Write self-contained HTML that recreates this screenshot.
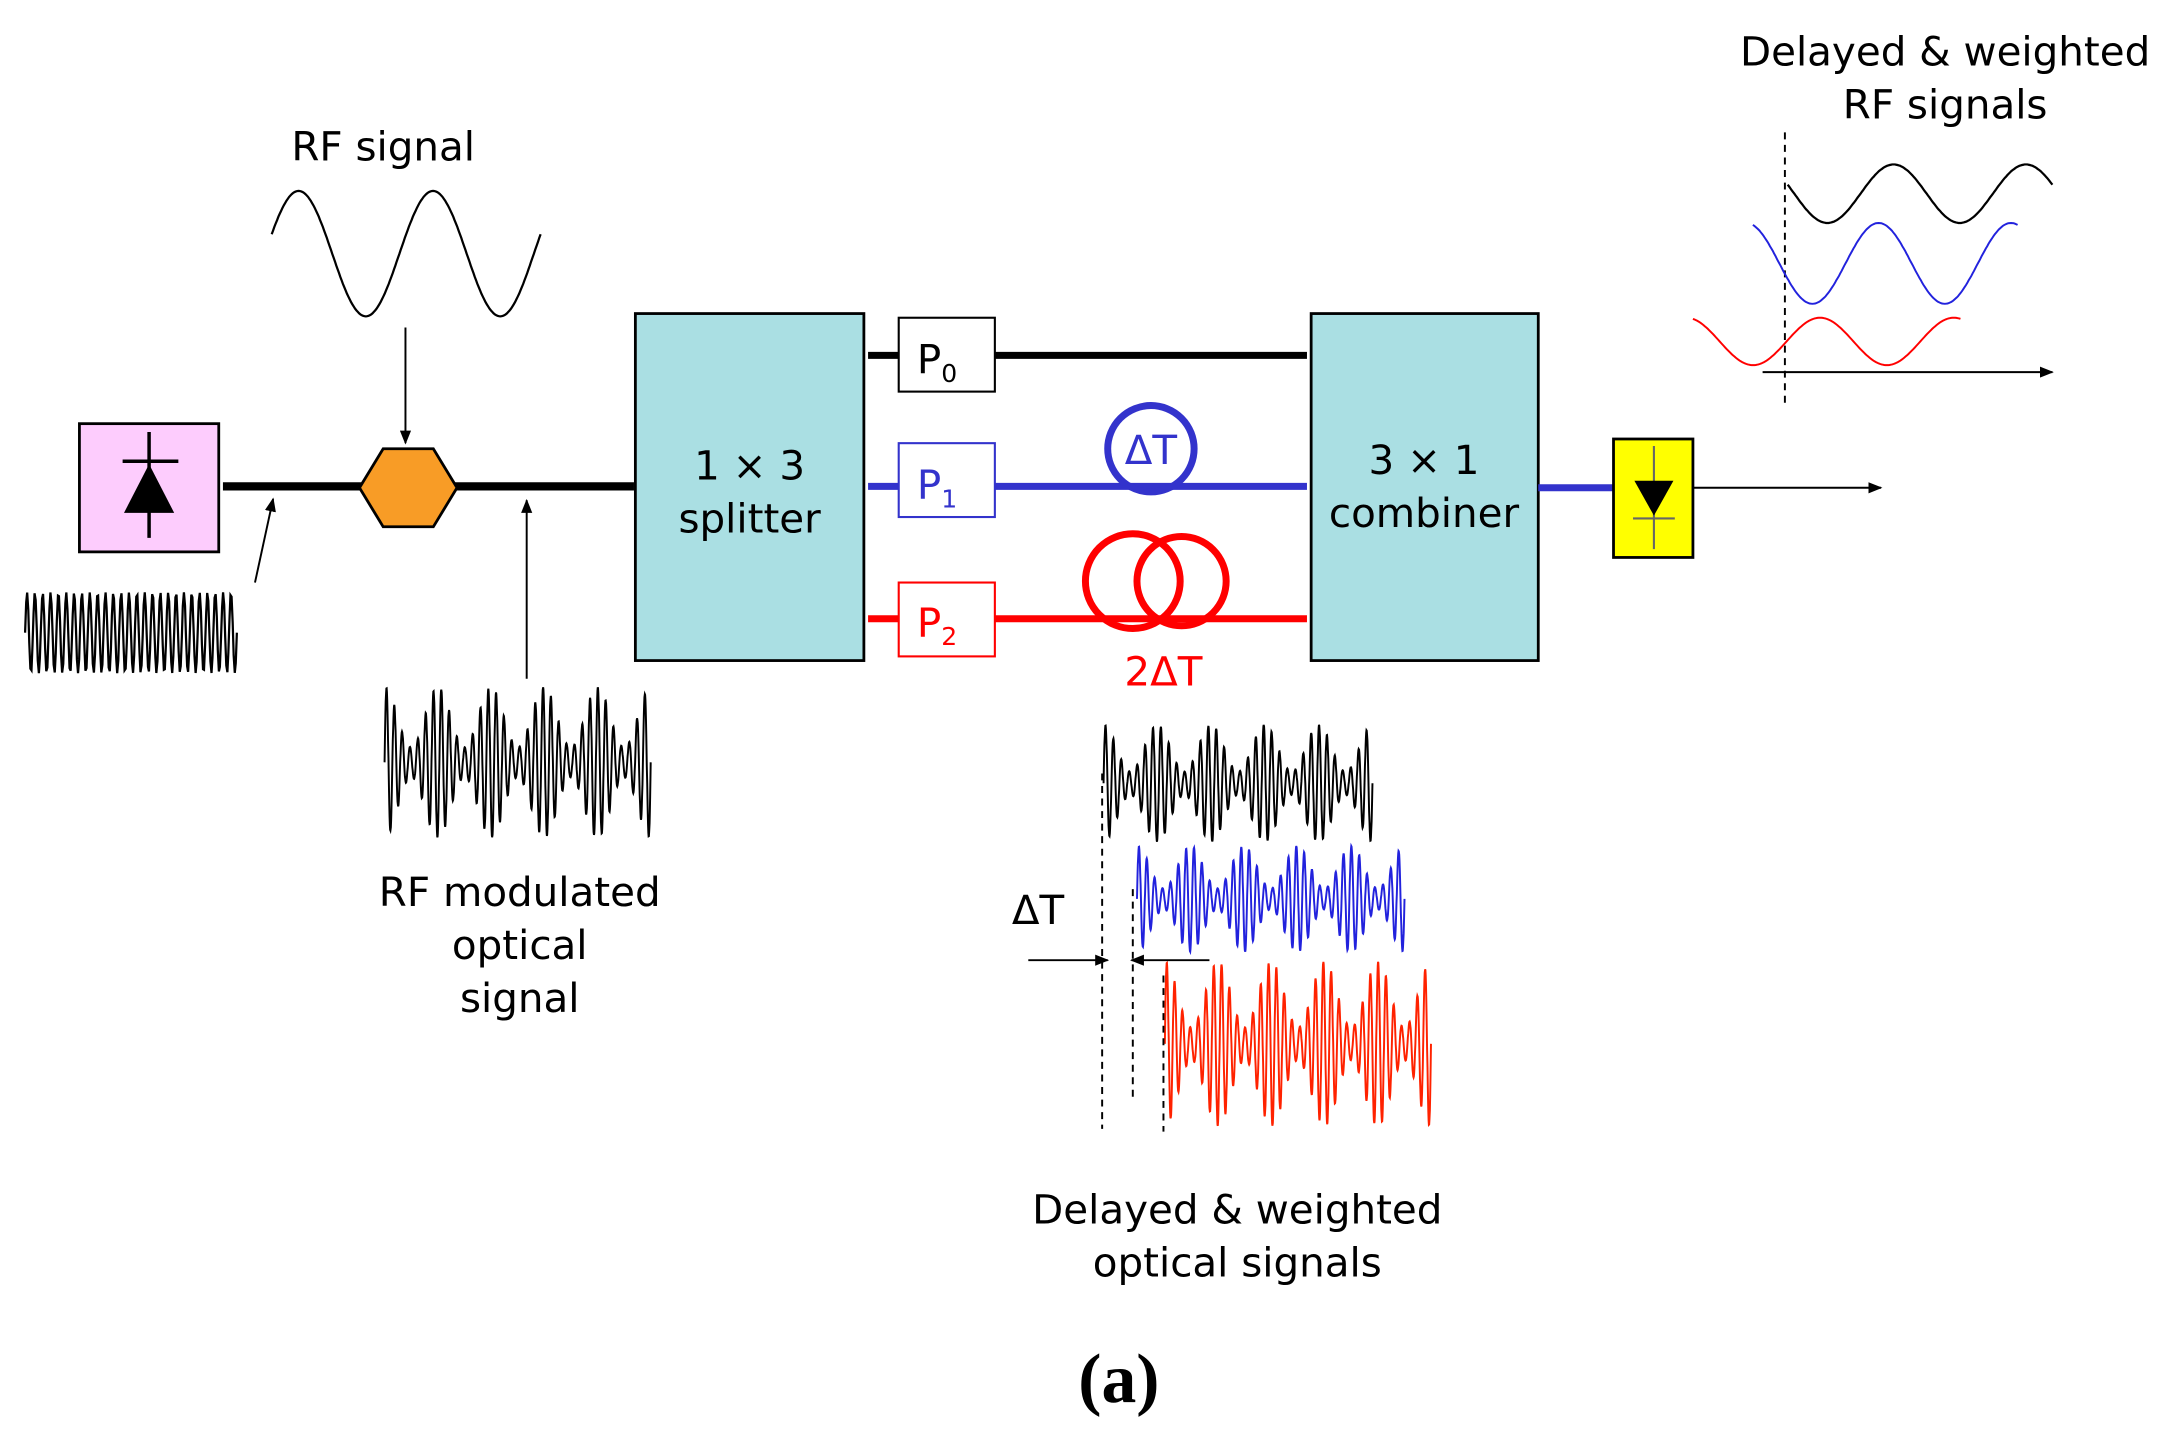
<!DOCTYPE html>
<html><head><meta charset="utf-8"><style>
html,body{margin:0;padding:0;background:#fff}
svg{display:block}
text{font-family:"DejaVu Sans","Liberation Sans",sans-serif;font-size:29px}
</style></head><body>
<svg id="s" width="2182" height="1441" viewBox="0 0 1566 1034" preserveAspectRatio="none" xmlns="http://www.w3.org/2000/svg">
<defs>
<marker id="ar" markerWidth="10" markerHeight="8" refX="9" refY="4" orient="auto" markerUnits="userSpaceOnUse"><path d="M0,0 L10,4 L0,8 z" fill="#000"/></marker>
</defs>
<rect x="57" y="304" width="100" height="92" fill="#fdccfd" stroke="#000" stroke-width="2"/>
<line x1="107" y1="310" x2="107" y2="386" stroke="#000" stroke-width="2.5"/>
<line x1="88" y1="331" x2="128" y2="331" stroke="#000" stroke-width="2.5"/>
<polygon points="107,333 89,368 125,368" fill="#000"/>
<line x1="160" y1="349" x2="455" y2="349" stroke="#000" stroke-width="6"/>
<polygon points="258,350 275,322 311,322 328,350 311,378 275,378" fill="#f89c26" stroke="#000" stroke-width="2"/>
<text x="275" y="115" text-anchor="middle">RF signal</text>
<path id="rf" fill="none" stroke="#000" stroke-width="1.6"/>
<line x1="291" y1="235" x2="291" y2="318" stroke="#000" stroke-width="1.4" marker-end="url(#ar)"/>
<line x1="183" y1="418" x2="196" y2="358" stroke="#000" stroke-width="1.4" marker-end="url(#ar)"/>
<path id="hf" fill="none" stroke="#000" stroke-width="1.6"/>
<line x1="378" y1="487" x2="378" y2="359" stroke="#000" stroke-width="1.4" marker-end="url(#ar)"/>
<path id="m0" fill="none" stroke="#000" stroke-width="1.4"/>
<text x="373" y="650" text-anchor="middle">RF modulated</text>
<text x="373" y="688" text-anchor="middle">optical</text>
<text x="373" y="726" text-anchor="middle">signal</text>
<rect x="456" y="225" width="164" height="249" fill="#aadfe3" stroke="#000" stroke-width="2"/>
<text x="538" y="344" text-anchor="middle">1 × 3</text>
<text x="538" y="382" text-anchor="middle">splitter</text>
<rect x="941" y="225" width="163" height="249" fill="#aadfe3" stroke="#000" stroke-width="2"/>
<text x="1022" y="340" text-anchor="middle">3 × 1</text>
<text x="1022" y="378" text-anchor="middle">combiner</text>
<line x1="623" y1="255" x2="938" y2="255" stroke="#000" stroke-width="5"/>
<rect x="645" y="228" width="69" height="53" fill="#fff" stroke="#000" stroke-width="1.5"/>
<text x="658" y="268">P<tspan font-size="18" dy="6">0</tspan></text>
<line x1="623" y1="349" x2="938" y2="349" stroke="#3333cc" stroke-width="5"/>
<circle cx="826" cy="322" r="31" fill="none" stroke="#3333cc" stroke-width="5"/>
<text x="826" y="333" text-anchor="middle" fill="#3333cc" font-size="27">ΔT</text>
<rect x="645" y="318" width="69" height="53" fill="#fff" stroke="#3333cc" stroke-width="1.5"/>
<text x="658" y="358" fill="#3333cc">P<tspan font-size="18" dy="6">1</tspan></text>
<line x1="623" y1="444" x2="938" y2="444" stroke="#ff0000" stroke-width="5"/>
<circle cx="813" cy="417" r="34" fill="none" stroke="#ff0000" stroke-width="5"/>
<circle cx="848" cy="417" r="32" fill="none" stroke="#ff0000" stroke-width="5"/>
<rect x="645" y="418" width="69" height="53" fill="#fff" stroke="#ff0000" stroke-width="1.5"/>
<text x="658" y="457" fill="#ff0000">P<tspan font-size="18" dy="6">2</tspan></text>
<text x="835" y="492" text-anchor="middle" fill="#ff0000">2ΔT</text>
<line x1="1104" y1="350" x2="1158" y2="350" stroke="#3333cc" stroke-width="5"/>
<rect x="1158" y="315" width="57" height="85" fill="#ffff00" stroke="#000" stroke-width="2"/>
<line x1="1187" y1="320" x2="1187" y2="394" stroke="#666" stroke-width="1.5"/>
<line x1="1172" y1="372" x2="1202" y2="372" stroke="#666" stroke-width="1.5"/>
<polygon points="1173,345 1201,345 1187,370" fill="#000"/>
<line x1="1215" y1="350" x2="1350" y2="350" stroke="#000" stroke-width="1.4" marker-end="url(#ar)"/>
<text x="1396" y="47" text-anchor="middle">Delayed &amp; weighted</text>
<text x="1396" y="85" text-anchor="middle">RF signals</text>
<line x1="1281" y1="95" x2="1281" y2="293" stroke="#000" stroke-width="1.4" stroke-dasharray="5,4"/>
<line x1="1265" y1="267" x2="1473" y2="267" stroke="#000" stroke-width="1.4" marker-end="url(#ar)"/>
<path id="r1" fill="none" stroke="#000" stroke-width="1.6"/>
<path id="r2" fill="none" stroke="#2222dd" stroke-width="1.4"/>
<path id="r3" fill="none" stroke="#ff0000" stroke-width="1.4"/>
<path id="m1" fill="none" stroke="#000" stroke-width="1.4"/>
<path id="m2" fill="none" stroke="#2222dd" stroke-width="1.4"/>
<path id="m3" fill="none" stroke="#ff2200" stroke-width="1.4"/>
<line x1="791" y1="555" x2="791" y2="810" stroke="#000" stroke-width="1.4" stroke-dasharray="5,4"/>
<line x1="813" y1="638" x2="813" y2="790" stroke="#000" stroke-width="1.4" stroke-dasharray="5,4"/>
<line x1="835" y1="700" x2="835" y2="812" stroke="#000" stroke-width="1.4" stroke-dasharray="5,4"/>
<text x="745" y="663" text-anchor="middle">ΔT</text>
<line x1="738" y1="689" x2="795" y2="689" stroke="#000" stroke-width="1.4" marker-end="url(#ar)"/>
<line x1="868" y1="689" x2="812" y2="689" stroke="#000" stroke-width="1.4" marker-end="url(#ar)"/>
<text x="888" y="878" text-anchor="middle">Delayed &amp; weighted</text>
<text x="888" y="916" text-anchor="middle">optical signals</text>
<text x="803" y="1006" text-anchor="middle" style="font-family:'Liberation Serif',serif;font-size:50px;font-weight:bold">(a)</text>
</svg>
<script>
function sine(id,x0,x1,yc,amp,periods,phase){var d="",n=200;for(var i=0;i<=n;i++){var t=i/n,x=x0+(x1-x0)*t,y=yc-amp*Math.sin(2*Math.PI*periods*t+phase);d+=(i?"L":"M")+x.toFixed(1)+","+y.toFixed(1);}document.getElementById(id).setAttribute("d",d);}
function mod(id,x0,x1,yc,amp){var d="",n=900;for(var i=0;i<=n;i++){var t=i/n,x=x0+(x1-x0)*t;var env=0.6+0.4*Math.cos(2*Math.PI*5*t);var y=yc-amp*env*Math.sin(2*Math.PI*34*t);d+=(i?"L":"M")+x.toFixed(1)+","+y.toFixed(1);}document.getElementById(id).setAttribute("d",d);}
sine("rf",195,388,182,45,2,Math.PI*0.1);
sine("hf",18,170,454,29,27,0);
mod("m0",276,467,547,54);
sine("r1",1283,1473,139,21,2,Math.PI*0.9);
sine("r2",1258,1448,189,29,2,Math.PI*0.6);
sine("r3",1215,1407,245,17,2,Math.PI*0.6);
mod("m1",792,985,562,42);
mod("m2",816,1008,645,38);
mod("m3",836,1027,749,59);
</script>
</body></html>
